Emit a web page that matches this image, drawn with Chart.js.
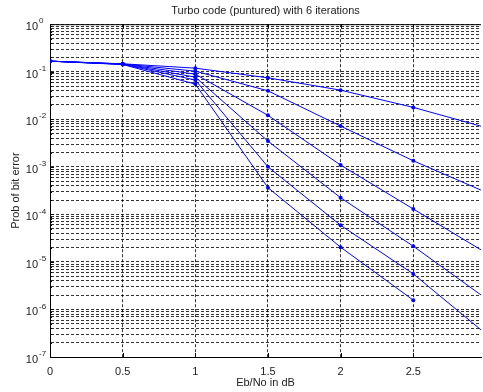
<!DOCTYPE html>
<html>
<head>
<meta charset="utf-8">
<script src="https://cdn.jsdelivr.net/npm/chart.js@4"></script>
<style>
  html, body { margin: 0; padding: 0; background: #fff; overflow: hidden; }
  #wrap { width: 483px; height: 392px; }
</style>
</head>
<body>
<div id="wrap"><canvas id="berChart" width="483" height="392"></canvas></div>
<script>
const ebNo = [0, 0.5, 1, 1.5, 2, 2.5, 3];
const iter1 = [0.167, 0.147, 0.119, 0.0745, 0.041, 0.0178, 0.0067];
const iter2 = [0.167, 0.146, 0.103, 0.0397, 0.0072, 0.00134, 0.000292];
const iter3 = [0.167, 0.145, 0.089, 0.0121, 0.00109, 0.00013, 0.0000155];
const iter4 = [0.167, 0.144, 0.077, 0.00348, 0.000224, 0.0000214, 0.0000017];
const iter5 = [0.167, 0.143, 0.067, 0.001, 0.000059, 0.0000056, 0.000000305];
const iter6 = [0.167, 0.142, 0.055, 0.000364, 0.0000204, 0.00000157, null];

const xTicks = [0, 0.5, 1, 1.5, 2, 2.5];
const decades = [-7, -6, -5, -4, -3, -2, -1, 0];

const FONT = "'Liberation Sans', Arial, sans-serif";
Chart.defaults.font.family = FONT;
Chart.defaults.font.size = 11;
Chart.defaults.color = "#222";

// minor grid lines at 1..9 x 10^n, label only the powers of ten
const yTicks = [];
decades.forEach((d) => {
  const steps = d === 0 ? [1] : [1, 2, 3, 4, 5, 6, 7, 8, 9];
  steps.forEach((s) => yTicks.push(s * Math.pow(10, d)));
});

const toPoints = (ys) => ebNo.map((x, i) => ({ x: x, y: ys[i] }));

const series = [iter1, iter2, iter3, iter4, iter5, iter6].map((ys) => ({
  data: toPoints(ys),
  borderColor: "rgb(0,0,255)",
  backgroundColor: "rgb(0,0,255)",
  borderWidth: 1,
  pointRadius: 2,
  pointBorderWidth: 0,
  pointHoverRadius: 2,
  tension: 0,
  spanGaps: false,
}));

// top border, inward tick marks and 10^n labels
const matlabAxes = {
  id: "matlabAxes",
  afterDraw(chart) {
    const { ctx, chartArea } = chart;
    const xs = chart.scales.x;
    const ys = chart.scales.y;
    ctx.save();
    ctx.strokeStyle = "#000";
    ctx.lineWidth = 1;
    ctx.beginPath();
    ctx.moveTo(chartArea.left, chartArea.top + 0.5);
    ctx.lineTo(chartArea.right, chartArea.top + 0.5);
    xTicks.forEach((t) => {
      const px = Math.round(xs.getPixelForValue(t)) + 0.5;
      ctx.moveTo(px, chartArea.bottom);
      ctx.lineTo(px, chartArea.bottom - 4);
      ctx.moveTo(px, chartArea.top);
      ctx.lineTo(px, chartArea.top + 4);
    });
    yTicks.forEach((t) => {
      const py = Math.round(ys.getPixelForValue(t)) + 0.5;
      const len = Math.abs(Math.log10(t) - Math.round(Math.log10(t))) < 1e-9 ? 4 : 2;
      ctx.moveTo(chartArea.left, py);
      ctx.lineTo(chartArea.left + len, py);
    });
    ctx.stroke();

    ctx.fillStyle = "#222";
    ctx.textBaseline = "middle";
    decades.forEach((d) => {
      const py = ys.getPixelForValue(Math.pow(10, d));
      ctx.font = "11px " + FONT;
      ctx.textAlign = "right";
      ctx.fillText("10", 38, py + 3);
      ctx.font = "8px " + FONT;
      ctx.textAlign = "left";
      ctx.fillText(String(d), 39, py - 3);
    });
    ctx.restore();
  },
};

const gridStyle = {
  color: "rgba(0,0,0,0.8)",
  lineWidth: 1,
  drawTicks: false,
};

new Chart(document.getElementById("berChart").getContext("2d"), {
  type: "line",
  data: { datasets: series },
  options: {
    responsive: false,
    animation: false,
    layout: { padding: 0 },
    plugins: {
      legend: { display: false },
      tooltip: { enabled: false },
      title: {
        display: true,
        text: "Turbo code (puntured) with 6 iterations",
        fullSize: false,
        font: { size: 11, weight: "normal" },
        color: "#222",
        padding: { top: 4, bottom: 7 },
      },
    },
    scales: {
      x: {
        type: "linear",
        min: 0,
        max: 2.966,
        afterBuildTicks: (scale) => {
          scale.ticks = xTicks.map((v) => ({ value: v }));
        },
        afterFit: (scale) => {
          scale.height = 35;
        },
        grid: gridStyle,
        border: { display: true, color: "#000", width: 1, dash: [3, 2] },
        ticks: {
          padding: 8,
          maxRotation: 0,
          autoSkip: false,
          callback: (v) => String(v),
        },
        title: {
          display: true,
          text: "Eb/No in dB",
          font: { size: 11 },
          padding: { top: 0, bottom: 2 },
        },
      },
      y: {
        type: "logarithmic",
        min: 1e-7,
        max: 1,
        afterBuildTicks: (scale) => {
          scale.ticks = yTicks.map((v) => ({ value: v }));
        },
        afterFit: (scale) => {
          scale.width = 50;
        },
        grid: gridStyle,
        border: { display: true, color: "#000", width: 1, dash: [3, 2] },
        ticks: { display: false },
        title: {
          display: true,
          text: "Prob of bit error",
          font: { size: 11 },
          padding: { top: 9, bottom: 0 },
        },
      },
    },
  },
  plugins: [matlabAxes],
});
</script>
</body>
</html>
